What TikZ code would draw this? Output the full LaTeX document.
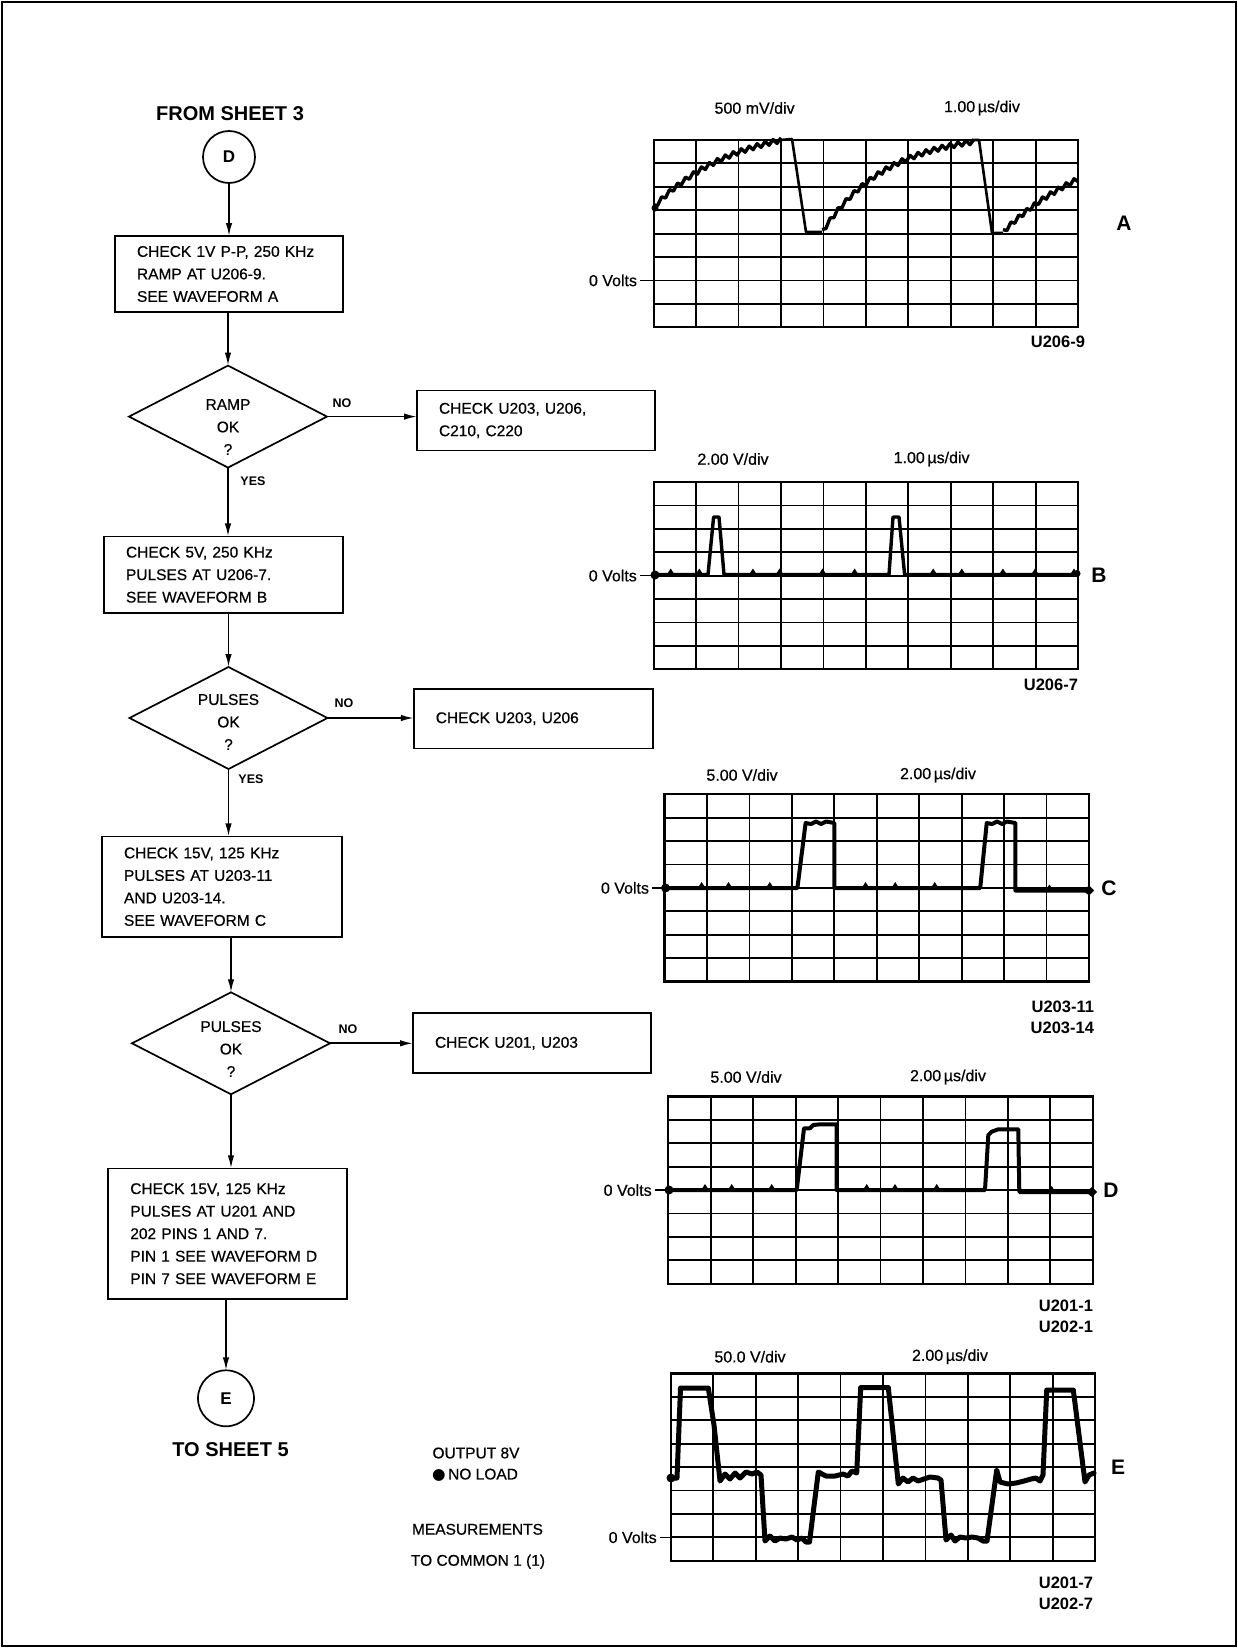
\documentclass[tikz,border=0pt]{standalone}
\usepackage{fontspec}
\setmainfont{Liberation Sans}[UprightFeatures={FakeBold=0.5}]
\newfontfamily\dejavu{DejaVu Sans}
\usetikzlibrary{shapes.geometric,arrows.meta}

\newcommand{\osgrid}[2]{%
  \foreach \i in {1,...,9} {\draw[gl] ({#1+\i*42.45},#2) -- ({#1+\i*42.45},{#2+187.2});}
  \foreach \j in {1,...,7} {\draw[gl] (#1,{#2+\j*23.4}) -- ({#1+424.5},{#2+\j*23.4});}
  \draw[line width=2.2pt] (#1,#2) rectangle ({#1+424.5},{#2+187.2});}
\newcommand{\bumps}[2]{\foreach \x in {#2} {\fill ({\x-4.5},{#1+1}) -- (\x,{#1-6}) -- ({\x+4.5},{#1+1}) -- cycle;}}

\begin{document}
\begin{tikzpicture}[x=1pt,y=-1pt,
  every node/.style={inner sep=0pt,outer sep=0pt},
  bx/.style={draw,line width=1.7pt,rectangle,align=left,font=\fontsize{15.5}{22.5}\selectfont,inner xsep=22pt,inner ysep=0pt},
  dia/.style={draw,line width=1.7pt,diamond,minimum width=198pt,minimum height=102pt,inner sep=0pt},
  dtxt/.style={align=center,font=\fontsize{15.5}{22.5}\selectfont},
  conn/.style={draw,line width=1.7pt,circle,minimum size=#1,font=\fontsize{17}{17}\selectfont\bfseries},
  arr/.style={line width=1.7pt,-{Latex[length=13pt,width=6.5pt]}},
  yn/.style={font=\fontsize{12.5}{12.5}\selectfont\bfseries},
  head/.style={font=\fontsize{20}{20}\selectfont\bfseries},
  sl/.style={font=\fontsize{16}{16}\selectfont},
  ul/.style={font=\fontsize{16.5}{21}\selectfont\bfseries,anchor=east,align=right},
  sletter/.style={font=\fontsize{21}{21}\selectfont\bfseries},
  gl/.style={line width=1.8pt},
  tr/.style={line width=4pt,line join=round,line cap=round},
  tick/.style={line width=1.6pt},
  note/.style={font=\fontsize{15.5}{15.5}\selectfont},
]
\useasboundingbox (0,0) rectangle (1238,1648);
\fill[white] (0,0) rectangle (1238,1648);
\draw[line width=2pt] (2,2) rectangle (1236,1646);

%% ---------------- flowchart ----------------
\node[head] (from) at (230,114) {FROM SHEET 3};
\node[conn=52pt] (cD) at (229,157) {D};
\node[bx,text width=184pt,minimum height=76pt] (b1) at (229,274) {CHECK 1V P-P, 250 KHz\\RAMP AT U206-9.\\SEE WAVEFORM A};
\node[dia] (d1) at (228,416.6) {};
\node[dtxt] (d1t) at (228,427) {RAMP\\OK\\?};
\node[bx,text width=194pt,minimum height=60pt] (s1) at (536,420.5) {CHECK U203, U206,\\C210, C220};
\node[yn] (no1) at (342,403) {NO};
\node[yn] (yes1) at (253,480.7) {YES};
\node[bx,text width=195pt,minimum height=76.5pt] (b2) at (223.5,574.7) {CHECK 5V, 250 KHz\\PULSES AT U206-7.\\SEE WAVEFORM B};
\node[dia] (d2) at (228.5,718) {};
\node[dtxt] (d2t) at (228.5,722) {PULSES\\OK\\?};
\node[bx,text width=195pt,minimum height=59.4pt] (s2) at (533.3,718.7) {CHECK U203, U206};
\node[yn] (no2) at (344,703) {NO};
\node[yn] (yes2) at (251,779.6) {YES};
\node[bx,text width=196pt,minimum height=100.6pt] (b3) at (222,886.7) {CHECK 15V, 125 KHz\\PULSES AT U203-11\\AND U203-14.\\SEE WAVEFORM C};
\node[dia] (d3) at (231,1043.3) {};
\node[dtxt] (d3t) at (231,1049) {PULSES\\OK\\?};
\node[bx,text width=194pt,minimum height=60pt] (s3) at (532,1043.3) {CHECK U201, U203};
\node[yn] (no3) at (348,1029.4) {NO};
\node[bx,text width=195pt,minimum height=130.7pt] (b4) at (227.8,1233.7) {CHECK 15V, 125 KHz\\PULSES AT U201 AND\\202 PINS 1 AND 7.\\PIN 1 SEE WAVEFORM D\\PIN 7 SEE WAVEFORM E};
\node[conn=56pt] (cE) at (226,1398.3) {E};
\node[head] (to) at (230.5,1450) {TO SHEET 5};

\draw[arr] (cD.south) -- (cD.south |- b1.north);
\draw[arr] (d1.north |- b1.south) -- (d1.north);
\draw[arr] (d1.east) -- (d1.east -| s1.west);
\draw[arr] (d1.south) -- (d1.south |- b2.north);
\draw[arr] (d2.north |- b2.south) -- (d2.north);
\draw[arr] (d2.east) -- (d2.east -| s2.west);
\draw[arr] (d2.south) -- (d2.south |- b3.north);
\draw[arr] (d3.north |- b3.south) -- (d3.north);
\draw[arr] (d3.east) -- (d3.east -| s3.west);
\draw[arr] (d3.south) -- (d3.south |- b4.north);
\draw[arr] (cE.north |- b4.south) -- (cE.north);

\node[note] (out) at (476,1453) {OUTPUT 8V};
\node[note] (noload) at (475,1475) {{\dejavu ●}\,NO LOAD};
\node[note] (meas) at (477.5,1529.3) {MEASUREMENTS};
\node[note] (common) at (478,1561.7) {TO COMMON 1 (1)};

%% ---------------- scope A ----------------
\osgrid{653.6}{140}
\node[sl] (aV) at (754.6,108) {500 mV/div};
\node[sl] (aT) at (982,108) {1.00\,µs/div};
\node[sl,anchor=east] (a0) at (637,280.4) {0 Volts};
\draw[tick] (a0.east) ++(3,0) -- (653.6,280.4);
\node[ul] (aU) at (1085,341.7) {U206-9};
\node[sletter] (aL) at (1124,223) {A};
\draw[line width=3.4pt,line join=round]
  plot[domain=653.6:781,samples=33] (\x,{232-109*(1-exp(-(\x-633)/80))+2.4*(2*mod(round((\x-653.6)/4),2)-1)});
\draw[line width=3.4pt,line join=round]
  plot[domain=822:974,samples=39] (\x,{232-100*(1-exp(-(\x-822)/65))+2.4*(2*mod(round((\x-822)/4),2)-1)});
\draw[line width=3.4pt,line join=round]
  plot[domain=1003:1078,samples=20] (\x,{232-100*(1-exp(-(\x-1003)/100))+2.4*(2*mod(round((\x-1003)/4),2)-1)});
\draw[line width=2.6pt,line join=round] (781,140) -- (792,139) -- (806,232) -- (822,232);
\draw[line width=2.6pt,line join=round] (974,140) -- (979,140) -- (992,233) -- (1003,233);
\fill (655,208) circle (3.5);

%% ---------------- scope B ----------------
\osgrid{653.6}{482}
\node[sl] (bV) at (733,459) {2.00 V/div};
\node[sl] (bT) at (931.6,459) {1.00\,µs/div};
\node[sl,anchor=east] (b0) at (636.8,575.6) {0 Volts};
\draw[tick] (b0.east) ++(3,0) -- (653.6,575.6);
\node[ul] (bU) at (1078,685) {U206-7};
\node[sletter] (bL) at (1099,575.6) {B};
\draw[line width=3.4pt,line join=round] (654.6,574.5) -- (708,574.5) -- (713.6,517) -- (719,517) -- (724,574.5)
  -- (889,574.5) -- (893,517) -- (899,517) -- (904.6,574.5) -- (1077,574.5);
\bumps{574.5}{670.7,699.3,752.9,779.6,822.5,854.6,933.2,961.8,1002.9,1035,1074}
\fill (655,575) circle (4.5);
\fill (1077,573.5) circle (3.5);

%% ---------------- scope C ----------------
\osgrid{664.5}{794.3}
\node[sl] (cV) at (742,775) {5.00 V/div};
\node[sl] (cT) at (938,775) {2.00\,µs/div};
\node[sl,anchor=east] (c0) at (649,887.9) {0 Volts};
\draw[tick] (c0.east) ++(3,0) -- (664.5,887.9);
\node[ul] (cU) at (1094,1017) {U203-11\\U203-14};
\node[sletter] (cL) at (1109,887.9) {C};
\draw[tr] (665,888) -- (797.4,888) -- (805.6,823) -- (811,824) -- (816,821.5) -- (821,824) -- (826,821.5) -- (834.3,823) -- (834.3,888)
  -- (980.2,888) -- (986.7,823) -- (992,824) -- (997,821.5) -- (1002,824) -- (1007,821.5) -- (1015.4,823) -- (1015.4,890.5) -- (1088,890.5);
\bumps{888}{701.6,728.5,769.8,865.5,895.2,934.7}
\bumps{890.5}{1049.4}
\fill (665.5,888) circle (4.5);
\fill (1083,890.5) -- (1089,885.5) -- (1094,890.5) -- (1089,895.5) -- cycle;

%% ---------------- scope D ----------------
\osgrid{668.3}{1096.5}
\node[sl] (dV) at (746,1077) {5.00 V/div};
\node[sl] (dT) at (948,1077) {2.00\,µs/div};
\node[sl,anchor=east] (d0) at (651.7,1190.1) {0 Volts};
\draw[tick] (d0.east) ++(3,0) -- (668.3,1190.1);
\node[ul] (dU) at (1093,1316.5) {U201-1\\U202-1};
\node[sletter] (dL) at (1111,1190.1) {D};
\draw[tr] (668.3,1190) -- (796.7,1190) -- (804,1128.3) -- (810,1128.3) -- (813.3,1125) -- (820,1124.3) -- (836.7,1124.3) -- (836.7,1190)
  -- (985,1190) -- (988.3,1135) -- (991.7,1131.7) -- (998.3,1129.3) -- (1018.3,1129.3) -- (1019.3,1192) -- (1091,1192);
\bumps{1190}{705,731.7,771.7,866.7,895,936.7}
\bumps{1192}{1051.7}
\fill (669,1190) circle (4.5);
\fill (1086,1192) -- (1092,1187) -- (1097,1192) -- (1092,1197) -- cycle;

%% ---------------- scope E ----------------
\osgrid{670.7}{1373.5}
\node[sl] (eV) at (750,1356.7) {50.0 V/div};
\node[sl] (eT) at (950,1356.7) {2.00\,µs/div};
\node[sl,anchor=east] (e0) at (656.7,1537.3) {0 Volts};
\draw[tick] (e0.east) ++(3,0) -- (670.7,1537.3);
\node[ul] (eU) at (1093,1593) {U201-7\\U202-7};
\node[sletter] (eL) at (1118,1467) {E};
\draw[line width=5pt,line join=round,line cap=round]
  (671,1478) -- (677,1478) -- (680.5,1388) -- (708.3,1388) -- (714,1425) -- (720,1481)
  -- (725,1474) -- (730,1479) -- (735,1473) -- (740,1478) -- (746,1472) -- (752,1474) -- (757,1472) -- (761,1475)
  -- (765,1541) -- (770,1536) -- (775,1541) -- (780,1538) -- (786,1539) -- (792,1537) -- (797,1540) -- (802,1538) -- (806,1542) -- (809.5,1542)
  -- (818.3,1472) -- (826,1476) -- (835,1476) -- (843,1474) -- (848,1476) -- (852,1471) -- (856.7,1473)
  -- (860.7,1387.5) -- (888.3,1387.5) -- (898.3,1484)
  -- (903,1478) -- (908,1482) -- (913,1478) -- (918,1481) -- (924,1479) -- (930,1477) -- (938,1478) -- (941,1480)
  -- (946,1540) -- (951,1535) -- (955,1541) -- (960,1537) -- (966,1538) -- (972,1537) -- (978,1538) -- (983,1541) -- (987,1541)
  -- (996.7,1470) -- (1000,1482) -- (1008,1484) -- (1016,1483) -- (1024,1481) -- (1031,1479) -- (1036,1478) -- (1040,1481) -- (1043,1475)
  -- (1046.7,1390) -- (1073.3,1390) -- (1085,1482) -- (1089,1475) -- (1094,1473);
\fill (671,1478) circle (4.5);
\end{tikzpicture}
\end{document}
